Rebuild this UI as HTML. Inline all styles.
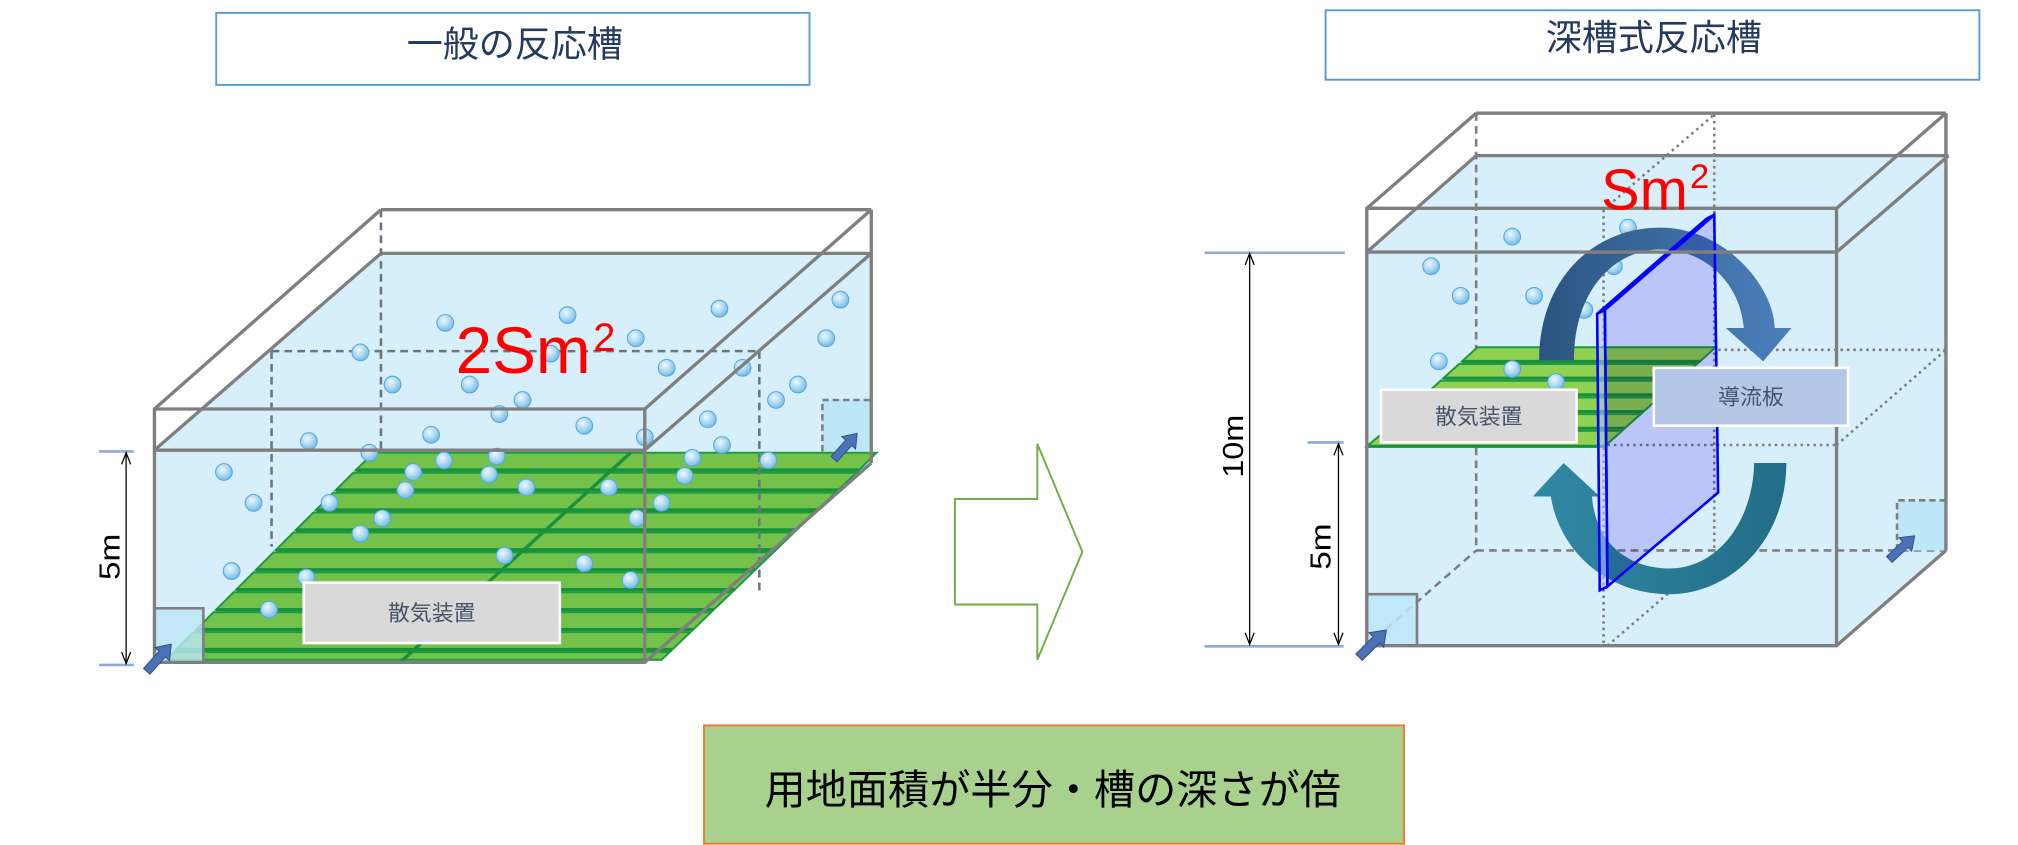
<!DOCTYPE html>
<html><head><meta charset="utf-8"><style>
html,body{margin:0;padding:0;background:#fff;width:2018px;height:845px;overflow:hidden}
svg{display:block}
.j{font-family:"Liberation Sans","Noto Sans CJK JP",sans-serif}
</style></head><body>
<svg width="2018" height="845" viewBox="0 0 1568 657" preserveAspectRatio="none" xmlns="http://www.w3.org/2000/svg">
<defs>
<radialGradient id="bub" cx="0.4" cy="0.35" r="0.7">
<stop offset="0" stop-color="#eef8fe"/><stop offset="0.55" stop-color="#a9d7f1"/><stop offset="1" stop-color="#6db6e4"/>
</radialGradient>
<linearGradient id="ta" x1="0" y1="0" x2="1" y2="0">
<stop offset="0" stop-color="#2b5480"/><stop offset="1" stop-color="#4c80bd"/>
</linearGradient>
<linearGradient id="ba" x1="0" y1="0" x2="1" y2="0">
<stop offset="0" stop-color="#3188a5"/><stop offset="1" stop-color="#226d88"/>
</linearGradient>
<path id="sa" d="M0,-3.5 L19,-3.5 L19,-8 L30,0 L19,8 L19,3.5 L0,3.5 Z" fill="#4a72b5" stroke="#2f4f8a" stroke-width="0.8"/>
</defs>

<!-- Title boxes -->
<rect x="168" y="10" width="461" height="56" fill="#fff" stroke="#5b9bd5" stroke-width="1.5"/>
<text x="400" y="44" class="j" font-size="28" fill="#243a5e" text-anchor="middle">一般の反応槽</text>
<rect x="1030" y="8" width="508" height="54" fill="#fff" stroke="#5b9bd5" stroke-width="1.5"/>
<text x="1285" y="39" class="j" font-size="28" fill="#243a5e" text-anchor="middle">深槽式反応槽</text>

<!-- ================= LEFT TANK ================= -->
<polygon points="120,350 296,197 677,197 677,360 501,515 120,515" fill="#d7effa"/>
<g stroke="#6b7580" stroke-width="2" stroke-dasharray="6,4" fill="none">
<line x1="296" y1="163" x2="296" y2="352"/>
<line x1="211" y1="273" x2="590" y2="273"/>
<line x1="211" y1="273" x2="211" y2="425"/>
</g>
<rect x="639" y="311" width="38" height="40" fill="#bde6f7"/>
<polyline points="639,351 639,311 677,311" fill="none" stroke="#7f7f7f" stroke-width="2" stroke-dasharray="5,3"/>
<g stroke="#1e9c42" stroke-width="1.6" fill="#74c24a">
<polygon points="290,352 681,352 667.5,365.5 276.5,365.5"/>
<polygon points="274.5,367.5 665.4,367.5 651.4,381 261,381"/>
<polygon points="259,383 649.3,383 635.2,396.5 245.5,396.5"/>
<polygon points="243.5,398.5 633.2,398.5 619.1,412 230,412"/>
<polygon points="228,414 617,414 603,427.5 214.5,427.5"/>
<polygon points="212.5,429.5 600.9,429.5 586.9,443 199,443"/>
<polygon points="197,445 584.8,445 570.8,458.5 183.5,458.5"/>
<polygon points="181.5,460.5 568.7,460.5 554.6,474 168,474"/>
<polygon points="166,476 552.6,476 538.6,489.5 152.5,489.5"/>
<polygon points="150.5,491.5 536.5,491.5 522.4,505 137,505"/>
<polygon points="135,507 520.4,507 514,513 129,513"/>
</g>
<g stroke="#17913a" stroke-width="2.6">
<line x1="276.5" y1="365.5" x2="667.5" y2="365.5"/>
<line x1="261" y1="381" x2="651.4" y2="381"/>
<line x1="245.5" y1="396.5" x2="635.2" y2="396.5"/>
<line x1="230" y1="412" x2="619.1" y2="412"/>
<line x1="214.5" y1="427.5" x2="603" y2="427.5"/>
<line x1="199" y1="443" x2="586.9" y2="443"/>
<line x1="183.5" y1="458.5" x2="570.8" y2="458.5"/>
<line x1="168" y1="474" x2="554.6" y2="474"/>
<line x1="152.5" y1="489.5" x2="538.6" y2="489.5"/>
<line x1="137" y1="505" x2="522.4" y2="505"/>
<line x1="490" y1="352" x2="312" y2="514"/>
</g>
<line x1="590" y1="273" x2="590" y2="462" stroke="#6b7580" stroke-width="2" stroke-dasharray="6,4"/>
<g fill="url(#bub)" stroke="#4fa8df" stroke-width="0.8">
<circle cx="305" cy="299" r="6.5"/><circle cx="365" cy="299" r="6.5"/><circle cx="406" cy="311" r="6.5"/>
<circle cx="620" cy="299" r="6.5"/><circle cx="603" cy="311" r="6.5"/><circle cx="388" cy="322" r="6.5"/>
<circle cx="454" cy="331" r="6.5"/><circle cx="335" cy="338" r="6.5"/><circle cx="240" cy="343" r="6.5"/>
<circle cx="550" cy="326" r="6.5"/><circle cx="561" cy="346" r="6.5"/><circle cx="501" cy="340" r="6.5"/>
<circle cx="287" cy="352" r="6.5"/><circle cx="345" cy="358" r="6.5"/><circle cx="386" cy="355" r="6.5"/>
<circle cx="538" cy="356" r="6.5"/><circle cx="597" cy="358" r="6.5"/><circle cx="174" cy="367" r="6.5"/>
<circle cx="321" cy="367" r="6.5"/><circle cx="380" cy="369" r="6.5"/><circle cx="532" cy="370" r="6.5"/>
<circle cx="315" cy="381" r="6.5"/><circle cx="409" cy="379" r="6.5"/><circle cx="473" cy="379" r="6.5"/>
<circle cx="197" cy="391" r="6.5"/><circle cx="256" cy="391" r="6.5"/><circle cx="514" cy="391" r="6.5"/>
<circle cx="297" cy="403" r="6.5"/><circle cx="495" cy="403" r="6.5"/><circle cx="280" cy="415" r="6.5"/>
<circle cx="392" cy="432" r="6.5"/><circle cx="454" cy="438" r="6.5"/><circle cx="180" cy="444" r="6.5"/>
<circle cx="238" cy="449" r="6.5"/><circle cx="490" cy="451" r="6.5"/><circle cx="209" cy="474" r="6.5"/>
<circle cx="346" cy="251" r="6.5"/><circle cx="441" cy="245" r="6.5"/><circle cx="559" cy="240" r="6.5"/>
<circle cx="653" cy="233" r="6.5"/><circle cx="642" cy="263" r="6.5"/><circle cx="494" cy="263" r="6.5"/>
<circle cx="428" cy="275" r="6.5"/><circle cx="280" cy="274" r="6.5"/><circle cx="518" cy="286" r="6.5"/>
<circle cx="577" cy="286" r="6.5"/>
</g>
<rect x="121" y="473" width="37" height="42" fill="#bde6f7" fill-opacity="0.8"/>
<polyline points="121,473 158,473 158,515" fill="none" stroke="#7f7f7f" stroke-width="2"/>
<g stroke="#7f7f7f" stroke-width="2.6" fill="none" stroke-linejoin="round">
<line x1="296" y1="163" x2="677" y2="163"/>
<line x1="120" y1="318" x2="296" y2="163"/>
<line x1="501" y1="318" x2="677" y2="163"/>
<line x1="677" y1="163" x2="677" y2="360"/>
<rect x="120" y="318" width="381" height="197"/>
<line x1="120" y1="350" x2="501" y2="350"/>
<line x1="296" y1="197" x2="677" y2="197"/>
<line x1="120" y1="350" x2="296" y2="197"/>
<line x1="501" y1="350" x2="677" y2="197"/>
<line x1="501" y1="515" x2="677" y2="360"/>
</g>
<use href="#sa" transform="translate(114,522) rotate(-48) scale(0.95)"/>
<use href="#sa" transform="translate(648,357) rotate(-48) scale(0.9)"/>
<text x="354" y="290" font-family="Liberation Sans, sans-serif" font-size="51" fill="#ff0000">2Sm</text>
<text x="461" y="273" font-family="Liberation Sans, sans-serif" font-size="31" fill="#ff0000">2</text>
<rect x="236" y="453" width="199" height="47" fill="#d9d9d9" stroke="#fff" stroke-width="2"/>
<text x="335.5" y="482.5" class="j" font-size="17" fill="#44546a" text-anchor="middle">散気装置</text>
<g stroke="#8eaadb" stroke-width="2"><line x1="77" y1="351" x2="104" y2="351"/><line x1="77" y1="517" x2="104" y2="517"/></g>
<g stroke="#000" stroke-width="1" fill="none">
<line x1="98" y1="352" x2="98" y2="516"/>
<polyline points="94.5,361 98,352 101.5,361"/><polyline points="94.5,507 98,516 101.5,507"/>
</g>
<text transform="translate(93,433) rotate(-90)" font-family="Liberation Sans, sans-serif" font-size="22" text-anchor="middle" textLength="36" lengthAdjust="spacingAndGlyphs">5m</text>

<polygon points="742,388 806,388 806,345 841,429 806,513 806,470 742,470" fill="#fff" stroke="#70ad47" stroke-width="1.5"/>

<!-- ================= RIGHT TANK ================= -->
<polygon points="1062,196 1147,121 1512,121 1512,428 1427,502 1062,502" fill="#d7effa"/>
<g stroke="#7f7f7f" stroke-width="2" stroke-dasharray="6,4" fill="none">
<line x1="1147" y1="88" x2="1147" y2="428"/>
<line x1="1147" y1="428" x2="1512" y2="428"/>
<line x1="1062" y1="502" x2="1147" y2="428"/>
</g>
<g stroke="#7f7f7f" stroke-width="2" stroke-dasharray="2,3" fill="none">
<line x1="1332" y1="89" x2="1332" y2="428"/>
<line x1="1246" y1="163" x2="1332" y2="89"/>
<line x1="1246" y1="163" x2="1246" y2="502"/>
<line x1="1249" y1="502" x2="1335" y2="428"/>
<line x1="1335" y1="272" x2="1512" y2="272"/>
<line x1="1249" y1="346" x2="1427" y2="346"/>
<line x1="1427" y1="346" x2="1512" y2="272"/>
</g>
<rect x="1474" y="389" width="38" height="39" fill="#bde6f7"/>
<polyline points="1474,428 1474,389 1512,389" fill="none" stroke="#7f7f7f" stroke-width="2" stroke-dasharray="5,3"/>
<g stroke="#1e9a45" stroke-width="1.6" fill="#8fd150">
<polygon points="1148,270 1333,270 1321,281 1136,281"/>
<polygon points="1133.7,283 1318.4,283 1306.1,294 1121.6,294"/>
<polygon points="1119.4,296 1303.9,296 1291.6,307 1107.3,307"/>
<polygon points="1105,309 1289.3,309 1277,320 1093,320"/>
<polygon points="1090.8,322 1274.8,322 1262.4,333 1078.7,333"/>
<polygon points="1076.4,335 1260.2,335 1247,347 1062,347"/>
</g>
<g stroke="#17913a" stroke-width="2.4">
<line x1="1136" y1="281" x2="1321" y2="281"/><line x1="1121.6" y1="294" x2="1306" y2="294"/>
<line x1="1107.3" y1="307" x2="1291.6" y2="307"/><line x1="1093" y1="320" x2="1277" y2="320"/>
<line x1="1078.7" y1="333" x2="1262.4" y2="333"/><line x1="1062" y1="347" x2="1247" y2="347"/>
</g>
<g fill="url(#bub)" stroke="#4fa8df" stroke-width="0.8">
<circle cx="1175" cy="184" r="6.5"/><circle cx="1265" cy="177" r="6.5"/><circle cx="1112" cy="207" r="6.5"/>
<circle cx="1254" cy="207" r="6.5"/><circle cx="1135" cy="230" r="6.5"/><circle cx="1192" cy="230" r="6.5"/>
<circle cx="1231" cy="241" r="6.5"/><circle cx="1118" cy="281" r="6.5"/><circle cx="1175" cy="287" r="6.5"/>
<circle cx="1209" cy="297" r="6.5"/>
</g>
<path d="M1196,280 C1196,215 1240,177 1290,177 C1340,177 1378,222 1379,255 L1392,255 L1370,281 L1341,255 L1355,255 C1352,220 1325,194 1290,194 C1255,194 1223,225 1223,280 Z" fill="url(#ta)"/>
<path d="M1215,360 L1243,386 L1237,386 C1240,425 1268,442 1297,442 C1335,442 1362,405 1363,360 L1388,360 C1388,420 1345,462 1297,462 C1250,462 1212,430 1205,386 L1191,386 Z" fill="url(#ba)"/>
<polygon points="1247,241 1332,167 1335,383 1249,456" fill="#dcd4fc" style="mix-blend-mode:multiply"/>
<polygon points="1241,244 1326,170 1332,167 1247,241" fill="#d8d8ff" fill-opacity="0.6" stroke="#0000ff" stroke-width="2"/>
<polygon points="1241,244 1247,241 1249,456 1243,459" fill="#c0c0ff" fill-opacity="0.5" stroke="#0000ff" stroke-width="2"/>
<polygon points="1247,241 1332,167 1335,383 1249,456" fill="none" stroke="#0000ff" stroke-width="2"/>
<rect x="1061" y="462" width="40" height="40" fill="#bde6f7" fill-opacity="0.85"/>
<polyline points="1061,462 1101,462 1101,502" fill="none" stroke="#7f7f7f" stroke-width="2"/>
<g stroke="#7f7f7f" stroke-width="2.6" fill="none" stroke-linejoin="round">
<line x1="1147" y1="88" x2="1512" y2="88"/>
<line x1="1062" y1="162" x2="1147" y2="88"/>
<line x1="1427" y1="162" x2="1512" y2="88"/>
<line x1="1512" y1="88" x2="1512" y2="428"/>
<rect x="1062" y="162" width="365" height="340"/>
<line x1="1062" y1="196" x2="1427" y2="196"/>
<line x1="1147" y1="121" x2="1514" y2="121"/>
<line x1="1062" y1="196" x2="1147" y2="121"/>
<line x1="1427" y1="196" x2="1514" y2="121"/>
<line x1="1427" y1="502" x2="1512" y2="428"/>
</g>
<use href="#sa" transform="translate(1056,511) rotate(-45)"/>
<use href="#sa" transform="translate(1468,435) rotate(-43) scale(0.9)"/>
<text x="1244" y="163" font-family="Liberation Sans, sans-serif" font-size="45" fill="#ff0000">Sm</text>
<text x="1313" y="146" font-family="Liberation Sans, sans-serif" font-size="27" fill="#ff0000">2</text>
<rect x="1073" y="303" width="152" height="41" fill="#d9d9d9" stroke="#fff" stroke-width="2"/>
<text x="1149" y="329.5" class="j" font-size="17" fill="#44546a" text-anchor="middle">散気装置</text>
<rect x="1285" y="286" width="151" height="45" fill="#b4c7e7" stroke="#fff" stroke-width="2"/>
<text x="1360.5" y="314.5" class="j" font-size="17" fill="#44546a" text-anchor="middle">導流板</text>
<g stroke="#8eaadb" stroke-width="2">
<line x1="936" y1="196.5" x2="1045" y2="196.5"/>
<line x1="936" y1="502.5" x2="1044" y2="502.5"/>
<line x1="1016" y1="344" x2="1044" y2="344"/>
</g>
<g stroke="#000" stroke-width="1" fill="none">
<line x1="971" y1="197" x2="971" y2="501"/>
<polyline points="967.5,206 971,197 974.5,206"/><polyline points="967.5,492 971,501 974.5,492"/>
<line x1="1040" y1="345" x2="1040" y2="501"/>
<polyline points="1036.5,354 1040,345 1043.5,354"/><polyline points="1036.5,492 1040,501 1043.5,492"/>
</g>
<text transform="translate(966,347) rotate(-90)" font-family="Liberation Sans, sans-serif" font-size="22" text-anchor="middle" textLength="49" lengthAdjust="spacingAndGlyphs">10m</text>
<text transform="translate(1034,425) rotate(-90)" font-family="Liberation Sans, sans-serif" font-size="22" text-anchor="middle" textLength="36" lengthAdjust="spacingAndGlyphs">5m</text>

<rect x="547" y="564" width="544" height="92" fill="#a9d18e" stroke="#ed7d31" stroke-width="1.5"/>
<text x="818" y="625" class="j" font-size="32" fill="#000" text-anchor="middle">用地面積が半分・槽の深さが倍</text>
</svg>
</body></html>
